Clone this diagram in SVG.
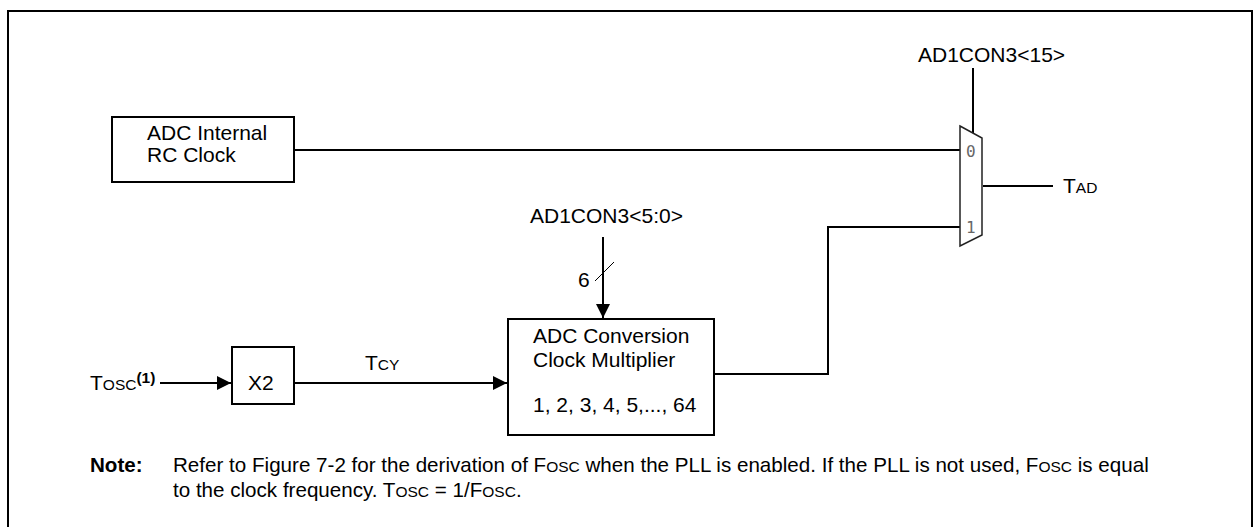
<svg xmlns="http://www.w3.org/2000/svg" width="1255" height="527" viewBox="0 0 1255 527">
<style>
text{font-family:"Liberation Sans",Arial,sans-serif;font-size:21px;fill:#000}
.sc{font-size:15.5px}
.b{font-weight:bold}
.box{fill:#fff;stroke:#000;stroke-width:2}
.ln{fill:none;stroke:#000;stroke-width:2}
.mono{font-family:"DejaVu Sans Mono","Liberation Mono",monospace;font-size:16px;fill:#666}
.note{font-size:20.6px}
</style>
<defs>
<marker id="ah" markerWidth="14" markerHeight="14" refX="14" refY="7" orient="auto" markerUnits="userSpaceOnUse">
<path d="M0,0 L14,7 L0,14 Z" fill="#000"/>
</marker>
</defs>
<rect x="8" y="11" width="1244" height="530" fill="none" stroke="#000" stroke-width="2"/>

<g id="connectors">
<line class="ln" x1="294" y1="150" x2="960" y2="150"/>
<polyline class="ln" points="714,374 828,374 828,227 960,227"/>
<line class="ln" x1="983" y1="186" x2="1053" y2="186"/>
<line class="ln" x1="973" y1="68" x2="973" y2="133"/>
<line class="ln" x1="603" y1="237" x2="603" y2="318" marker-end="url(#ah)"/>
<line x1="595" y1="281" x2="614" y2="262" stroke="#000" stroke-width="1"/>
<line class="ln" x1="160" y1="383" x2="231" y2="383" marker-end="url(#ah)"/>
<line class="ln" x1="294" y1="383" x2="507" y2="383" marker-end="url(#ah)"/>
</g>

<g id="rc-clock">
<rect class="box" x="112" y="117" width="182" height="65"/>
<text x="147" y="140">ADC Internal</text>
<text x="147" y="162">RC Clock</text>
</g>

<g id="mux">
<polygon points="960,126 982,138 982,235 960,246" fill="#fff" stroke="#222" stroke-width="1.5"/>
<text class="mono" x="966" y="157">0</text>
<text class="mono" x="966" y="233">1</text>
</g>

<g id="ad1con3-15">
<text x="918" y="62">AD1CON3&lt;15&gt;</text>
</g>

<g id="tad">
<text x="1063" y="193">T<tspan class="sc">AD</tspan></text>
</g>

<g id="ad1con3-50">
<text x="530" y="223">AD1CON3&lt;5:0&gt;</text>
<text x="578" y="287">6</text>
</g>

<g id="multiplier">
<rect class="box" x="508" y="319" width="206" height="116"/>
<text x="533" y="343">ADC Conversion</text>
<text x="533" y="367">Clock Multiplier</text>
<text x="533" y="412">1, 2, 3, 4, 5,..., 64</text>
</g>

<g id="x2">
<rect class="box" x="232" y="347" width="62" height="57"/>
<text x="248" y="390">X2</text>
</g>

<g id="tosc">
<text x="90" y="390">T<tspan class="sc">OSC</tspan><tspan class="sc b" dy="-7">(1)</tspan></text>
</g>

<g id="tcy">
<text x="365" y="370">T<tspan class="sc">CY</tspan></text>
</g>

<g id="note">
<text class="note b" x="90" y="472">Note:</text>
<text class="note" x="173" y="472">Refer to Figure 7-2 for the derivation of F<tspan class="sc">OSC</tspan> when the PLL is enabled. If the PLL is not used, F<tspan class="sc">OSC</tspan> is equal</text>
<text class="note" x="173" y="497">to the clock frequency. T<tspan class="sc">OSC</tspan> = 1/F<tspan class="sc">OSC</tspan>.</text>
</g>
</svg>
